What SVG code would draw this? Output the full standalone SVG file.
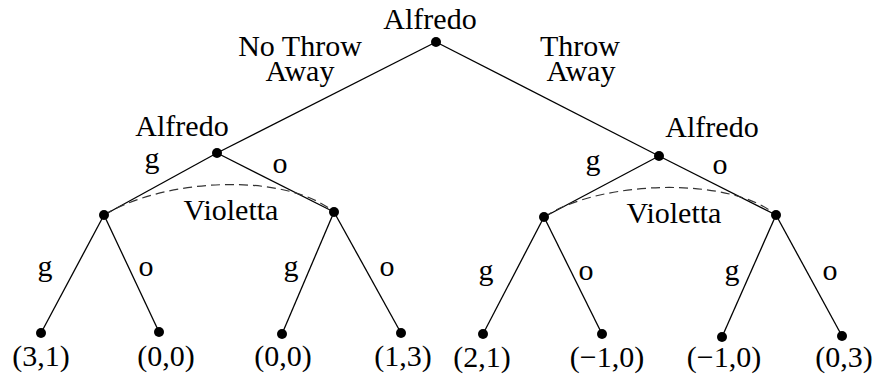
<svg xmlns="http://www.w3.org/2000/svg" width="878" height="382" viewBox="0 0 878 382">
<style>
text{font-family:"Liberation Serif","Times New Roman",serif;font-size:30px;fill:#000;text-anchor:middle}
.e{stroke:#000;stroke-width:1.3;fill:none}
.d{fill:#000}
.info{stroke:#333;stroke-width:1.2;fill:none;stroke-dasharray:9,5}
</style>
<rect width="878" height="382" fill="#fff"/>
<g id="connectors">
<line class="e" x1="436" y1="42" x2="217" y2="153"/>
<line class="e" x1="436" y1="42" x2="659" y2="156"/>
<line class="e" x1="217" y1="153" x2="104" y2="215"/>
<line class="e" x1="217" y1="153" x2="334" y2="212"/>
<line class="e" x1="659" y1="156" x2="544" y2="217"/>
<line class="e" x1="659" y1="156" x2="776" y2="215"/>
<line class="e" x1="104" y1="215" x2="41" y2="333"/>
<line class="e" x1="104" y1="215" x2="159" y2="332"/>
<line class="e" x1="334" y1="212" x2="282" y2="334"/>
<line class="e" x1="334" y1="212" x2="401" y2="333"/>
<line class="e" x1="544" y1="217" x2="483" y2="334"/>
<line class="e" x1="544" y1="217" x2="602" y2="334"/>
<line class="e" x1="776" y1="215" x2="722" y2="337"/>
<line class="e" x1="776" y1="215" x2="842" y2="336"/>
<path class="info" d="M104,215 C165,178 285,172 334,212"/>
<path class="info" d="M544,217 C600,180 730,176 776,215"/>
</g>
<g id="root"><circle class="d" cx="436" cy="42" r="5"/><text x="430" y="29">Alfredo</text></g>
<g id="label-nothrow"><text x="300" y="56">No Throw<tspan x="300" dy="25">Away</tspan></text></g>
<g id="label-throw"><text x="580" y="56">Throw<tspan x="581" dy="25">Away</tspan></text></g>
<g id="alfredo-left"><circle class="d" cx="217" cy="153" r="5"/><text x="182" y="136">Alfredo</text><text x="152" y="168">g</text><text x="280" y="173">o</text></g>
<g id="alfredo-right"><circle class="d" cx="659" cy="156" r="5"/><text x="712" y="137">Alfredo</text><text x="593" y="170">g</text><text x="720" y="174">o</text></g>
<g id="violetta-left"><text x="231" y="220">Violetta</text></g>
<g id="violetta-right"><text x="674" y="223">Violetta</text></g>
<g id="v1"><circle class="d" cx="104" cy="215" r="5"/><text x="45" y="276">g</text><text x="146" y="276">o</text></g>
<g id="v2"><circle class="d" cx="334" cy="212" r="5"/><text x="291" y="276">g</text><text x="387" y="276">o</text></g>
<g id="v3"><circle class="d" cx="544" cy="217" r="5"/><text x="486" y="280">g</text><text x="586" y="280">o</text></g>
<g id="v4"><circle class="d" cx="776" cy="215" r="5"/><text x="732" y="280">g</text><text x="830" y="280">o</text></g>
<g id="leaf1"><circle class="d" cx="41" cy="333" r="5"/><text x="41" y="366">(3,1)</text></g>
<g id="leaf2"><circle class="d" cx="159" cy="332" r="5"/><text x="166" y="366">(0,0)</text></g>
<g id="leaf3"><circle class="d" cx="282" cy="334" r="5"/><text x="283" y="366">(0,0)</text></g>
<g id="leaf4"><circle class="d" cx="401" cy="333" r="5"/><text x="403" y="366">(1,3)</text></g>
<g id="leaf5"><circle class="d" cx="483" cy="334" r="5"/><text x="482" y="367">(2,1)</text></g>
<g id="leaf6"><circle class="d" cx="602" cy="334" r="5"/><text x="607" y="367">(−1,0)</text></g>
<g id="leaf7"><circle class="d" cx="722" cy="337" r="5"/><text x="724" y="367">(−1,0)</text></g>
<g id="leaf8"><circle class="d" cx="842" cy="336" r="5"/><text x="844" y="367">(0,3)</text></g>
</svg>
